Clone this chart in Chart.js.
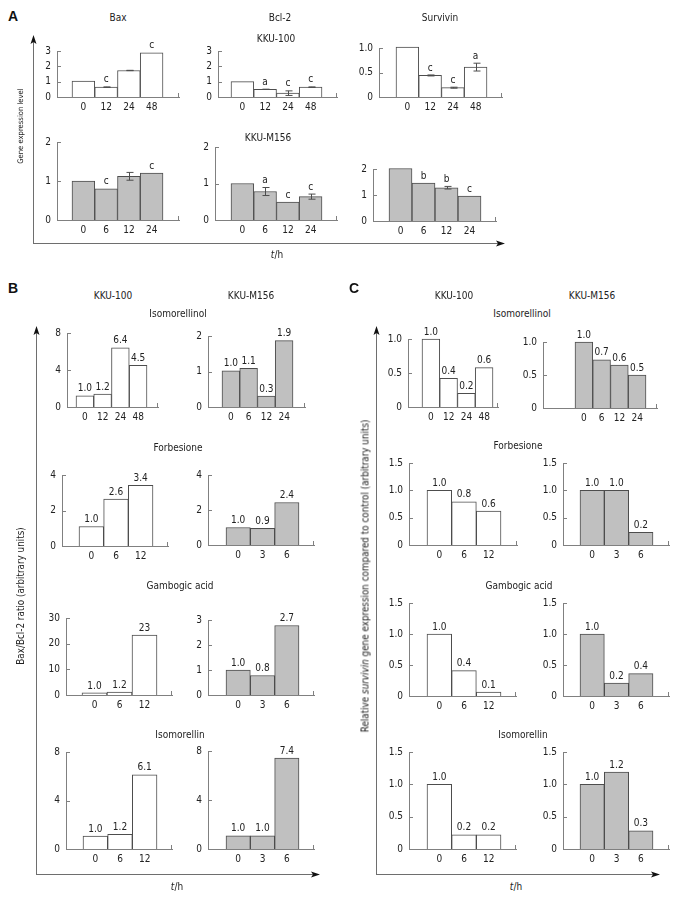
<!DOCTYPE html>
<html>
<head>
<meta charset="utf-8">
<script src="https://cdn.jsdelivr.net/npm/chart.js@4.4.1/dist/chart.umd.min.js"></script>
<style>
body { margin: 0; background: #fff; }
#fig { position: relative; width: 680px; height: 897px; overflow: hidden; color: #222;
       font-family: 'DejaVu Sans Condensed', 'DejaVu Sans', sans-serif; font-size: 10px; }
#fig canvas { position: absolute; }
#axes { position: absolute; left: 0; top: 0; }
.t { position: absolute; white-space: nowrap; transform: translate(-50%, -50%); }
.p { position: absolute; transform: translate(-50%, -50%); font: bold 14px 'Liberation Sans', Arial, sans-serif; color: #111; }
.v { position: absolute; white-space: nowrap; transform: translate(-50%, -50%) rotate(-90deg); }
</style>
</head>
<body>
<div id="fig"><svg id="axes" width="680" height="897"></svg></div>
<script>
// ---- panel A: gene expression (KKU-100 at 0/12/24/48 h, KKU-M156 at 0/6/12/24 h)
const hoursA100 = ['0', '12', '24', '48'];
const hoursAM156 = ['0', '6', '12', '24'];

const baxK100 = [1.04, 0.64, 1.73, 2.88];
const baxK100Err = [0, 0.02, 0.01, 0];
const baxK100Sig = ['', 'c', '', 'c'];

const bclK100 = [1.0, 0.5, 0.25, 0.64];
const bclK100Err = [0, 0.01, 0.15, 0.02];
const bclK100Sig = ['', 'a', 'c', 'c'];

const survK100 = [1.02, 0.44, 0.19, 0.61];
const survK100Err = [0, 0.01, 0.01, 0.08];
const survK100Sig = ['', 'c', 'c', 'a'];

const baxM156 = [1.0, 0.8, 1.12, 1.2];
const baxM156Err = [0, 0, 0.1, 0];
const baxM156Sig = ['', 'c', '', 'c'];

const bclM156 = [1.0, 0.78, 0.49, 0.64];
const bclM156Err = [0, 0.11, 0, 0.07];
const bclM156Sig = ['', 'a', 'c', 'c'];

const survM156 = [2.02, 1.46, 1.28, 0.96];
const survM156Err = [0, 0, 0.05, 0];
const survM156Sig = ['', 'b', 'b', 'c'];

// ---- panels B and C: time points
const hoursIsol100 = ['0', '12', '24', '48'];
const hoursIsolM156 = ['0', '6', '12', '24'];
const hours100 = ['0', '6', '12'];
const hoursM156 = ['0', '3', '6'];

// ---- panel B: Bax/Bcl-2 ratio
const ratioIsolK100 = [1.2, 1.4, 6.4, 4.5];
const ratioIsolK100Txt = ['1.0', '1.2', '6.4', '4.5'];
const ratioIsolM156 = [1.02, 1.09, 0.31, 1.87];
const ratioIsolM156Txt = ['1.0', '1.1', '0.3', '1.9'];
const ratioForbK100 = [1.1, 2.65, 3.42];
const ratioForbK100Txt = ['1.0', '2.6', '3.4'];
const ratioForbM156 = [1.0, 0.95, 2.43];
const ratioForbM156Txt = ['1.0', '0.9', '2.4'];
const ratioGambK100 = [0.8, 1.1, 23.3];
const ratioGambK100Txt = ['1.0', '1.2', '23'];
const ratioGambM156 = [1.0, 0.78, 2.78];
const ratioGambM156Txt = ['1.0', '0.8', '2.7'];
const ratioIsmK100 = [1.07, 1.2, 6.12];
const ratioIsmK100Txt = ['1.0', '1.2', '6.1'];
const ratioIsmM156 = [1.07, 1.07, 7.43];
const ratioIsmM156Txt = ['1.0', '1.0', '7.4'];

// ---- panel C: relative survivin expression
const survIsolK100 = [1.0, 0.42, 0.2, 0.58];
const survIsolK100Txt = ['1.0', '0.4', '0.2', '0.6'];
const survIsolM156 = [1.0, 0.73, 0.65, 0.5];
const survIsolM156Txt = ['1.0', '0.7', '0.6', '0.5'];
const survForbK100 = [1.0, 0.79, 0.62];
const survForbK100Txt = ['1.0', '0.8', '0.6'];
const survForbM156 = [1.0, 1.0, 0.23];
const survForbM156Txt = ['1.0', '1.0', '0.2'];
const survGambK100 = [1.0, 0.41, 0.065];
const survGambK100Txt = ['1.0', '0.4', '0.1'];
const survGambM156 = [1.0, 0.21, 0.36];
const survGambM156Txt = ['1.0', '0.2', '0.4'];
const survIsmK100 = [1.0, 0.22, 0.22];
const survIsmK100Txt = ['1.0', '0.2', '0.2'];
const survIsmM156 = [1.0, 1.19, 0.28];
const survIsmM156Txt = ['1.0', '1.2', '0.3'];

const WHITE = '#ffffff';
const GRAY = '#c0c0c0';
const AXIS = '#808080';
const EDGE = '#4d4d4d';
const INK = '#222222';
const FONT = "'DejaVu Sans Condensed', 'DejaVu Sans', sans-serif";

// plot boxes: [axis left, axis right, top tick y, zero y, first bar left, last bar right]
const charts = [
  {box: [57, 179, 51, 97, 72, 163], x: hoursA100, y: baxK100, err: baxK100Err, tag: baxK100Sig, yMax: 3, yStep: 1, fill: WHITE},
  {box: [218, 337, 51, 97, 231, 322], x: hoursA100, y: bclK100, err: bclK100Err, tag: bclK100Sig, yMax: 3, yStep: 1, fill: WHITE},
  {box: [379, 502, 48, 97, 396, 487], x: hoursA100, y: survK100, err: survK100Err, tag: survK100Sig, yMax: 1, yStep: 0.5, fill: WHITE},
  {box: [57, 179, 142, 220, 72, 163], x: hoursAM156, y: baxM156, err: baxM156Err, tag: baxM156Sig, yMax: 2, yStep: 1, fill: GRAY},
  {box: [215, 337, 147, 220, 231, 322], x: hoursAM156, y: bclM156, err: bclM156Err, tag: bclM156Sig, yMax: 2, yStep: 1, fill: GRAY},
  {box: [373, 496, 169, 221, 389, 481], x: hoursAM156, y: survM156, err: survM156Err, tag: survM156Sig, yMax: 2, yStep: 1, fill: GRAY},

  {box: [67, 158, 333, 407, 76, 147], x: hoursIsol100, y: ratioIsolK100, tag: ratioIsolK100Txt, yMax: 8, yStep: 4, fill: WHITE},
  {box: [208, 305, 336, 407, 222, 293], x: hoursIsolM156, y: ratioIsolM156, tag: ratioIsolM156Txt, yMax: 2, yStep: 1, fill: GRAY},
  {box: [62, 168, 475, 546, 79, 153], x: hours100, y: ratioForbK100, tag: ratioForbK100Txt, yMax: 4, yStep: 2, fill: WHITE},
  {box: [208, 314, 475, 545, 226, 299], x: hoursM156, y: ratioForbM156, tag: ratioForbM156Txt, yMax: 4, yStep: 2, fill: GRAY},
  {box: [66, 172, 618, 695, 82, 157], x: hours100, y: ratioGambK100, tag: ratioGambK100Txt, yMax: 30, yStep: 10, fill: WHITE},
  {box: [208, 314, 620, 695, 226, 299], x: hoursM156, y: ratioGambM156, tag: ratioGambM156Txt, yMax: 3, yStep: 1, fill: GRAY},
  {box: [66, 172, 752, 849, 83, 157], x: hours100, y: ratioIsmK100, tag: ratioIsmK100Txt, yMax: 8, yStep: 4, fill: WHITE},
  {box: [208, 314, 751, 849, 226, 299], x: hoursM156, y: ratioIsmM156, tag: ratioIsmM156Txt, yMax: 8, yStep: 4, fill: GRAY},

  {box: [408, 498, 339, 407, 422, 493], x: hoursIsol100, y: survIsolK100, tag: survIsolK100Txt, yMax: 1, yStep: 0.5, fill: WHITE},
  {box: [543, 657, 342, 408, 575, 646], x: hoursIsolM156, y: survIsolM156, tag: survIsolM156Txt, yMax: 1, yStep: 0.5, fill: GRAY},
  {box: [409, 517, 463, 545, 427, 501], x: hours100, y: survForbK100, tag: survForbK100Txt, yMax: 1.5, yStep: 0.5, fill: WHITE},
  {box: [563, 669, 463, 545, 580, 653], x: hoursM156, y: survForbM156, tag: survForbM156Txt, yMax: 1.5, yStep: 0.5, fill: GRAY},
  {box: [409, 516, 603, 696, 427, 501], x: hours100, y: survGambK100, tag: survGambK100Txt, yMax: 1.5, yStep: 0.5, fill: WHITE},
  {box: [563, 669, 603, 696, 580, 653], x: hoursM156, y: survGambM156, tag: survGambM156Txt, yMax: 1.5, yStep: 0.5, fill: GRAY},
  {box: [409, 516, 752, 849, 427, 501], x: hours100, y: survIsmK100, tag: survIsmK100Txt, yMax: 1.5, yStep: 0.5, fill: WHITE},
  {box: [563, 669, 752, 849, 580, 653], x: hoursM156, y: survIsmM156, tag: survIsmM156Txt, yMax: 1.5, yStep: 0.5, fill: GRAY}
];

const fig = document.getElementById('fig');

// error bars, letters / values above bars, inward y ticks and the end tick of the x axis
function notes(d) {
  return {
    id: 'notes',
    afterDatasetsDraw(chart) {
      const ctx = chart.ctx, ys = chart.scales.y, area = chart.chartArea;
      const meta = chart.getDatasetMeta(0);
      ctx.save();
      ctx.lineWidth = 1;
      ctx.strokeStyle = AXIS;
      ys.ticks.forEach((t, i) => {
        const py = Math.round(ys.getPixelForTick(i)) + 0.5;
        ctx.beginPath(); ctx.moveTo(area.left, py); ctx.lineTo(area.left + 4, py); ctx.stroke();
      });
      ctx.beginPath();
      ctx.moveTo(area.right - 0.5, area.bottom); ctx.lineTo(area.right - 0.5, area.bottom - 4);
      ctx.stroke();

      ctx.font = '10px ' + FONT;
      ctx.fillStyle = INK;
      ctx.textAlign = 'center';
      ctx.textBaseline = 'bottom';
      meta.data.forEach((bar, i) => {
        let top = bar.y;
        const e = d.err ? d.err[i] : 0;
        if (e) {
          const hi = ys.getPixelForValue(d.y[i] + e);
          const lo = ys.getPixelForValue(d.y[i] - e);
          const cx = Math.round(bar.x) + 0.5;
          ctx.strokeStyle = EDGE;
          ctx.beginPath();
          ctx.moveTo(cx, hi); ctx.lineTo(cx, lo);
          ctx.moveTo(cx - 3, hi); ctx.lineTo(cx + 4, hi);
          ctx.moveTo(cx - 3, lo); ctx.lineTo(cx + 4, lo);
          ctx.stroke();
          top = Math.min(top, hi);
        }
        if (d.tag[i]) ctx.fillText(d.tag[i], bar.x, top - 2);
      });
      ctx.restore();
    }
  };
}

function makeChart(d) {
  const [L, R, T, B, b0, b1] = d.box;
  const n = d.y.length;
  const w = (b1 - b0) / n;
  const YW = 34, XH = 22, TP = 20, RP = 6;
  const cv = document.createElement('canvas');
  cv.width = YW + (R - L) + RP;
  cv.height = TP + (B - T) + XH;
  cv.style.left = (L - YW) + 'px';
  cv.style.top = (T - TP) + 'px';
  fig.appendChild(cv);
  const tickFont = {family: FONT, size: 10};

  new Chart(cv, {
    type: 'bar',
    data: {
      datasets: [{
        data: d.y.map((v, i) => ({x: i, y: v})),
        backgroundColor: d.fill,
        borderColor: EDGE,
        borderWidth: 1,
        barPercentage: 1,
        categoryPercentage: 1,
        clip: false
      }]
    },
    options: {
      responsive: false,
      maintainAspectRatio: false,
      animation: false,
      layout: {padding: {top: TP, right: RP, left: 0, bottom: 0}},
      plugins: {legend: {display: false}, tooltip: {enabled: false}},
      scales: {
        x: {
          type: 'linear',
          offset: false,
          min: (L - b0) / w - 0.5,
          max: (R - b0) / w - 0.5,
          afterBuildTicks: s => { s.ticks = d.x.map((_, i) => ({value: i})); },
          afterFit: s => { s.height = XH; },
          grid: {display: false, drawTicks: false, tickLength: 0},
          border: {color: AXIS},
          ticks: {autoSkip: false, maxRotation: 0, padding: 4, color: INK, font: tickFont,
                  callback: v => d.x[v]}
        },
        y: {
          min: 0,
          max: d.yMax,
          afterFit: s => { s.width = YW; },
          grid: {display: false, drawTicks: false, tickLength: 0},
          border: {color: AXIS},
          ticks: {stepSize: d.yStep, padding: 6, color: INK, font: tickFont,
                  callback: v => v === 0 ? '0' : (d.yStep < 1 ? v.toFixed(1) : String(v))}
        }
      }
    },
    plugins: [notes(d)]
  });
}

charts.forEach(makeChart);

// panel frames with arrow heads
const frames = [
  {x: 33, yTop: 35, yBot: 243, xEnd: 505},
  {x: 36, yTop: 326, yBot: 874, xEnd: 320},
  {x: 376, yTop: 326, yBot: 874, xEnd: 660}
];
let svg = '';
frames.forEach(f => {
  svg += `<line x1="${f.x + 0.5}" y1="${f.yBot + 0.5}" x2="${f.x + 0.5}" y2="${f.yTop + 6}" stroke="#6e6e6e" stroke-width="1"/>`;
  svg += `<line x1="${f.x}" y1="${f.yBot + 0.5}" x2="${f.xEnd - 6}" y2="${f.yBot + 0.5}" stroke="#6e6e6e" stroke-width="1"/>`;
  svg += `<polygon points="${f.x + 0.5},${f.yTop} ${f.x - 2.5},${f.yTop + 9} ${f.x + 0.5},${f.yTop + 7} ${f.x + 3.5},${f.yTop + 9}" fill="#111"/>`;
  svg += `<polygon points="${f.xEnd},${f.yBot + 0.5} ${f.xEnd - 9},${f.yBot - 2.5} ${f.xEnd - 7},${f.yBot + 0.5} ${f.xEnd - 9},${f.yBot + 3.5}" fill="#111"/>`;
});
document.getElementById('axes').innerHTML = svg;

// texts: [html, centre x, centre y, class, font size]
const texts = [
  ['A', 13, 16, 'p'], ['B', 13, 288, 'p'], ['C', 354, 288, 'p'],
  ['Bax', 118, 17, 't', 10], ['Bcl-2', 280, 17, 't', 10], ['Survivin', 440, 17, 't', 10],
  ['KKU-100', 276, 38, 't', 10], ['KKU-M156', 268, 137, 't', 10],
  ['<i>t</i>/h', 277, 254, 't', 10],
  ['KKU-100', 113, 295, 't', 10], ['KKU-M156', 251, 295, 't', 10],
  ['Isomorellinol', 178, 313, 't', 10], ['Forbesione', 178, 447, 't', 10],
  ['Gambogic acid', 180, 585, 't', 10], ['Isomorellin', 180, 734, 't', 10],
  ['<i>t</i>/h', 177, 886, 't', 10],
  ['KKU-100', 454, 295, 't', 10], ['KKU-M156', 592, 295, 't', 10],
  ['Isomorellinol', 522, 313, 't', 10], ['Forbesione', 518, 445, 't', 10],
  ['Gambogic acid', 519, 585, 't', 10], ['Isomorellin', 523, 734, 't', 10],
  ['<i>t</i>/h', 516, 886, 't', 10],
  ['Gene expression level', 20, 126, 'v', 7.6],
  ['Bax/Bcl-2 ratio (arbitrary units)', 20, 596, 'v', 9.8],
  ['Relative <i>survivin</i> gene expression compared to control (arbitrary units)', 365, 576, 'v', 9.8]
];
texts.forEach(([html, x, y, cls, size]) => {
  const el = document.createElement('div');
  el.className = cls;
  el.innerHTML = html;
  el.style.left = x + 'px';
  el.style.top = y + 'px';
  if (size) el.style.fontSize = size + 'px';
  fig.appendChild(el);
});
</script>
</body>
</html>
